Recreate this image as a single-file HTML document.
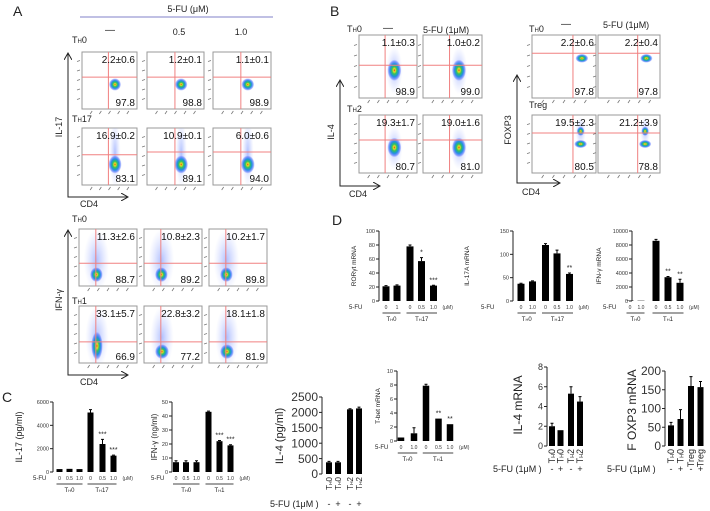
<!DOCTYPE html>
<html><head><meta charset="utf-8">
<style>
html,body{margin:0;padding:0;background:#fff;}
svg{display:block;font-family:"Liberation Sans",Arial,sans-serif;}
</style></head>
<body>
<svg id="fig" width="710" height="511" viewBox="0 0 710 511" xmlns="http://www.w3.org/2000/svg">
<defs>
<radialGradient id="hot" cx="50%" cy="50%" r="50%">
<stop offset="0%" stop-color="#e03020"/>
<stop offset="15%" stop-color="#e8e020"/>
<stop offset="35%" stop-color="#30c060"/>
<stop offset="60%" stop-color="#2090e0"/>
<stop offset="85%" stop-color="#4060ff" stop-opacity="0.5"/>
<stop offset="100%" stop-color="#6080ff" stop-opacity="0"/>
</radialGradient>
<radialGradient id="cloud" cx="50%" cy="50%" r="50%">
<stop offset="0%" stop-color="#6080ff" stop-opacity="0.5"/>
<stop offset="100%" stop-color="#a0b0ff" stop-opacity="0"/>
</radialGradient>
<marker id="arr" markerWidth="8" markerHeight="8" refX="7" refY="4" orient="auto-start-reverse"><path d="M0,0 L7,4 L0,8" fill="none" stroke="#222" stroke-width="1"/></marker>
</defs>
<g id="static" font-size="10" fill="#222">
<text x="13" y="16" font-size="14">A</text>
<text x="330" y="16" font-size="14">B</text>
<text x="2" y="402" font-size="14">C</text>
<text x="332" y="225" font-size="14">D</text>
<text x="188" y="12" text-anchor="middle" font-size="9">5-FU  (μM)</text>
<line x1="80" y1="17" x2="273" y2="17" stroke="#8080c8" stroke-width="1"/>
<text x="110" y="33" text-anchor="middle">—</text>
<text x="179" y="35" text-anchor="middle" font-size="9">0.5</text>
<text x="241" y="35" text-anchor="middle" font-size="9">1.0</text>
<text x="72" y="43" font-size="9">T<tspan font-size="6">H</tspan>0</text>
<text x="72" y="122" font-size="9">T<tspan font-size="6">H</tspan>17</text>
<text x="72" y="222" font-size="9">T<tspan font-size="6">H</tspan>0</text>
<text x="72" y="304" font-size="9">T<tspan font-size="6">H</tspan>1</text>
<polyline points="68,53 68,197 128,197" fill="none" stroke="#222" marker-start="url(#arr)" marker-end="url(#arr)"/>
<text x="62" y="127" transform="rotate(-90 62 127)" text-anchor="middle" font-size="9">IL-17</text>
<text x="80" y="207" font-size="9">CD4</text>
<polyline points="68,230 68,375 128,375" fill="none" stroke="#222" marker-start="url(#arr)" marker-end="url(#arr)"/>
<text x="62" y="300" transform="rotate(-90 62 300)" text-anchor="middle" font-size="9">IFN-γ</text>
<text x="80" y="385" font-size="9">CD4</text>
<text x="347" y="32" font-size="9">T<tspan font-size="6">H</tspan>0</text>
<text x="388" y="31" text-anchor="middle">—</text>
<text x="423" y="33" font-size="9">5-FU (1μM)</text>
<text x="347" y="112" font-size="9">T<tspan font-size="6">H</tspan>2</text>
<polyline points="340,80 340,186 380,186" fill="none" stroke="#222" marker-start="url(#arr)" marker-end="url(#arr)"/>
<text x="334" y="132" transform="rotate(-90 334 132)" text-anchor="middle" font-size="9">IL-4</text>
<text x="349" y="197" font-size="9">CD4</text>
<text x="529" y="32" font-size="9">T<tspan font-size="6">H</tspan>0</text>
<text x="566" y="27" text-anchor="middle">—</text>
<text x="603" y="28" font-size="9">5-FU (1μM)</text>
<text x="529" y="108" font-size="9">Treg</text>
<polyline points="517,75 517,183 560,183" fill="none" stroke="#222" marker-start="url(#arr)" marker-end="url(#arr)"/>
<text x="511" y="130" transform="rotate(-90 511 130)" text-anchor="middle" font-size="9">FOXP3</text>
<text x="522" y="195" font-size="9">CD4</text>
</g>
<g id="flow"></g>
<g id="bars"></g>
</svg>
<script>
// ---- Bar chart data ----
const rorgtVals = [21, 22, 78, 57, 22];
const rorgtErr = [1, 1, 2, 5, 0.5];
const rorgtSig = ['', '', '', '*', '***'];
const rorgtTicks = [0, 20, 40, 60, 80, 100];
const rorgtDoses = ['0', '1', '0', '0.5', '1.0'];

const il17aVals = [37, 42, 120, 102, 58];
const il17aErr = [1, 1, 3, 7, 2];
const il17aSig = ['', '', '', '', '**'];
const il17aTicks = [0, 50, 100, 150];
const il17aDoses = ['0', '1.0', '0', '0.5', '1.0'];

const ifngmVals = [60, 40, 8600, 3400, 2600];
const ifngmErr = [0, 0, 200, 100, 500];
const ifngmSig = ['', '', '', '**', '**'];
const ifngmTicks = [0, 2000, 4000, 6000, 8000, 10000];
const ifngmDoses = ['0', '1.0', '0', '0.5', '1.0'];

const tbetVals = [0.5, 1.1, 7.9, 3.2, 2.4];
const tbetErr = [0, 0.8, 0.2, 0, 0];
const tbetSig = ['', '', '', '**', '**'];
const tbetTicks = [0, 2, 4, 6, 8, 10];
const tbetDoses = ['0', '1.0', '0', '0.5', '1.0'];

const il17pVals = [250, 270, 250, 5100, 2400, 1400];
const il17pErr = [0, 0, 0, 250, 400, 50];
const il17pSig = ['', '', '', '', '***', '***'];
const il17pTicks = [0, 2000, 4000, 6000];
const il17pDoses = ['0', '0.5', '1.0', '0', '0.5', '1.0'];

const ifngpVals = [7, 7, 7, 43, 22, 19];
const ifngpErr = [1, 1, 1, 0.5, 0.5, 0.5];
const ifngpSig = ['', '', '', '', '***', '***'];
const ifngpTicks = [0, 10, 20, 30, 40, 50];
const ifngpDoses = ['0', '0.5', '1.0', '0', '0.5', '1.0'];

const il4pVals = [380, 380, 2100, 2130];
const il4pErr = [30, 30, 20, 40];
const il4pTicks = [0, 500, 1000, 1500, 2000, 2500];
const il4pCats = ['TH0', 'TH0', 'TH2', 'TH2'];

const il4mVals = [2.0, 1.6, 5.3, 4.5];
const il4mErr = [0.3, 0, 0.7, 0.5];
const il4mTicks = [0, 2, 4, 6, 8];
const il4mCats = ['TH0', 'TH0', 'TH2', 'TH2'];

const foxp3Vals = [55, 72, 160, 157];
const foxp3Err = [8, 25, 25, 15];
const foxp3Ticks = [0, 50, 100, 150, 200];
const foxp3Cats = ['TH0', 'TH0', 'Treg', 'Treg'];

const plusMinus = ['-', '+', '-', '+'];

const NS = 'http://www.w3.org/2000/svg';
function mk(tag, attrs, parent) {
  const e = document.createElementNS(NS, tag);
  for (const k in attrs) e.setAttribute(k, attrs[k]);
  parent.appendChild(e);
  return e;
}

// ---- Flow cytometry plots ----
const flowG = document.getElementById('flow');
function flowPlot(id, x, y, w, h, gx, gy, top, bot, blobs) {
  const g = mk('g', {}, flowG);
  
  
  const r = mk('rect', {x: x, y: y, width: w, height: h, fill: '#fff', stroke: '#999', 'stroke-width': 1}, g);
  
  
  for (let i = 1; i <= 5; i++) {
    const ty = y + h * i / 6;
    const t = mk('line', {x1: x - 5, y1: ty, x2: x - 2, y2: ty - 1, stroke: '#777', 'stroke-width': 0.8}, g);
    
    
    const tx = x + w * i / 6;
    const t2 = mk('line', {x1: tx - 1, y1: y + h + 5, x2: tx + 1, y2: y + h + 2, stroke: '#777', 'stroke-width': 0.8}, g);
    
    
  }
  const clip = 'clip-' + id;
  const cp = mk('clipPath', {id: clip}, g);
  mk('rect', {x: x, y: y, width: w, height: h}, cp);
  const bg = mk('g', {'clip-path': 'url(#' + clip + ')'}, g);
  blobs.forEach(b => {
    if (b.c) {
      const c = mk('ellipse', {cx: x + b.x * w, cy: y + (b.cy || b.y) * h, rx: b.c[0] * w, ry: b.c[1] * h, fill: 'url(#cloud)'}, bg);
      
      
    }
    const e = mk('ellipse', {cx: x + b.x * w, cy: y + b.y * h, rx: b.rx * w, ry: b.ry * h, fill: 'url(#hot)'}, bg);
    
    
  });
  const v = mk('line', {x1: x + gx * w, y1: y, x2: x + gx * w, y2: y + h, stroke: '#f08080', 'stroke-width': 1}, g);
  
  
  const hz = mk('line', {x1: x, y1: y + gy * h, x2: x + w, y2: y + gy * h, stroke: '#f08080', 'stroke-width': 1}, g);
  
  
  const tt = mk('text', {x: x + w - 2, y: y + 11, 'text-anchor': 'end', 'font-size': 10, fill: '#111'}, g);
  tt.textContent = top;
  
  
  const bt = mk('text', {x: x + w - 2, y: y + h - 3, 'text-anchor': 'end', 'font-size': 10, fill: '#111'}, g);
  bt.textContent = bot;
  
  
}
const compact = [{x: 0.6, y: 0.57, rx: 0.11, ry: 0.11}];
const th17 = [{x: 0.6, y: 0.64, rx: 0.12, ry: 0.16, c: [0.1, 0.6], cy: 0.45}];
const th0i = [{x: 0.3, y: 0.8, rx: 0.11, ry: 0.13, c: [0.22, 0.55], cy: 0.55}];
const th1a = [{x: 0.31, y: 0.7, rx: 0.1, ry: 0.25, c: [0.2, 0.55], cy: 0.55}];
const th1b = [{x: 0.31, y: 0.8, rx: 0.12, ry: 0.13, c: [0.2, 0.55], cy: 0.55}];
const il4b = [{x: 0.61, y: 0.56, rx: 0.12, ry: 0.17, c: [0.14, 0.38]}];
const treg1 = [{x: 0.78, y: 0.37, rx: 0.1, ry: 0.07}];
const treg2 = [{x: 0.76, y: 0.28, rx: 0.06, ry: 0.08, c: [0.08, 0.25]}, {x: 0.76, y: 0.5, rx: 0.1, ry: 0.07}];

flowPlot('flow-a-th0-ctrl', 82, 52, 55, 57, 0.48, 0.44, '2.2±0.6', '97.8', compact);
flowPlot('flow-a-th0-05', 147, 52, 57, 57, 0.49, 0.44, '1.2±0.1', '98.8', compact);
flowPlot('flow-a-th0-10', 213, 52, 58, 57, 0.48, 0.44, '1.1±0.1', '98.9', compact);
flowPlot('flow-a-th17-ctrl', 82, 128, 55, 57, 0.48, 0.47, '16.9±0.2', '83.1', th17);
flowPlot('flow-a-th17-05', 147, 128, 57, 57, 0.49, 0.42, '10.9±0.1', '89.1', th17);
flowPlot('flow-a-th17-10', 213, 128, 58, 57, 0.48, 0.42, '6.0±0.6', '94.0', th17);
flowPlot('flow-a-th0-ifng-ctrl', 79, 229, 58, 57, 0.29, 0.6, '11.3±2.6', '88.7', th0i);
flowPlot('flow-a-th0-ifng-05', 144, 229, 58, 57, 0.29, 0.6, '10.8±2.3', '89.2', th0i);
flowPlot('flow-a-th0-ifng-10', 209, 229, 58, 57, 0.29, 0.6, '10.2±1.7', '89.8', th0i);
flowPlot('flow-a-th1-ctrl', 79, 306, 58, 57, 0.29, 0.63, '33.1±5.7', '66.9', th1a);
flowPlot('flow-a-th1-05', 144, 306, 58, 57, 0.29, 0.63, '22.8±3.2', '77.2', th1b);
flowPlot('flow-a-th1-10', 209, 306, 58, 57, 0.29, 0.63, '18.1±1.8', '81.9', th1b);
flowPlot('flow-b-th0-ctrl', 359, 35, 58, 63, 0.45, 0.48, '1.1±0.3', '98.9', il4b);
flowPlot('flow-b-th0-5fu', 423, 35, 59, 63, 0.45, 0.48, '1.0±0.2', '99.0', il4b);
flowPlot('flow-b-th2-ctrl', 359, 115, 58, 58, 0.45, 0.43, '19.3±1.7', '80.7', il4b);
flowPlot('flow-b-th2-5fu', 423, 115, 59, 58, 0.45, 0.43, '19.0±1.6', '81.0', il4b);
flowPlot('flow-b-treg-th0-ctrl', 532, 35, 64, 63, 0.64, 0.29, '2.2±0.6', '97.8', treg1);
flowPlot('flow-b-treg-th0-5fu', 598, 35, 62, 63, 0.64, 0.29, '2.2±0.4', '97.8', treg1);
flowPlot('flow-b-treg-ctrl', 532, 115, 64, 58, 0.64, 0.31, '19.5±2.3', '80.5', treg2);
flowPlot('flow-b-treg-5fu', 598, 115, 62, 58, 0.64, 0.31, '21.2±3.9', '78.8', treg2);

// ---- Bar charts ----
const barsG = document.getElementById('bars');
function barChart(o) {
  const g = mk('g', {}, barsG);
  
  
  const vmax = o.ticks[o.ticks.length - 1];
  const sy = v => o.y0 - v / vmax * (o.y0 - o.ytop);
  const ax = mk('line', {x1: o.ax, y1: o.ytop, x2: o.ax, y2: o.y0, stroke: '#222', 'stroke-width': 1}, g);
  
  
  const fs = o.fs || 5.5;
  o.ticks.forEach(t => {
    const tl = mk('line', {x1: o.ax - 3, y1: sy(t), x2: o.ax, y2: sy(t), stroke: '#222', 'stroke-width': 1}, g);
    
    
    const tx = mk('text', {x: o.ax - 4, y: sy(t) + fs * 0.35, 'text-anchor': 'end', 'font-size': fs, fill: '#333'}, g);
    tx.textContent = t;
    
    
  });
  const lab = mk('text', {x: o.lx, y: o.ly, transform: 'rotate(-90 ' + o.lx + ' ' + o.ly + ')', 'text-anchor': 'middle', 'font-size': o.lfs || 6.5, fill: '#222'}, g);
  lab.textContent = o.label;
  
  
  o.vals.forEach((v, i) => {
    const cx = o.cx[i];
    const b = mk('rect', {x: cx - o.bw / 2, y: sy(v), width: o.bw, height: o.y0 - sy(v), fill: '#000'}, g);
    
    
    const e = o.err[i];
    if (e > 0) {
      const el = mk('path', {d: 'M' + cx + ',' + sy(v) + 'V' + sy(v + e) + 'M' + (cx - 1.5) + ',' + sy(v + e) + 'H' + (cx + 1.5), stroke: '#000', 'stroke-width': 1, fill: 'none'}, g);
      
      
    }
    if (o.sig && o.sig[i]) {
      const s = mk('text', {x: cx, y: sy(v + e) - 3, 'text-anchor': 'middle', 'font-size': 7, fill: '#222'}, g);
      s.textContent = o.sig[i];
      
      
    }
    if (o.doses) {
      const d = mk('text', {x: cx, y: o.y0 + 8, 'text-anchor': 'middle', 'font-size': 5, fill: '#333'}, g);
      d.textContent = o.doses[i];
      
      
    }
    if (o.cats) {
      const cy = o.y0 + 3;
      const c = mk('text', {x: cx + 3, y: cy, transform: 'rotate(-90 ' + (cx + 3) + ' ' + cy + ')', 'text-anchor': 'end', 'font-size': o.cfs || 9, fill: '#222'}, g);
      const cat = o.cats[i];
      if (cat.startsWith('TH')) {
        c.textContent = 'T';
        const ts = mk('tspan', {'font-size': (o.cfs || 9) * 0.6}, c);
        ts.textContent = 'H';
        const ts2 = mk('tspan', {}, c);
        ts2.textContent = cat.slice(2);
      } else c.textContent = cat;
      
      
    }
  });
  if (o.doses) {
    const f = mk('text', {x: o.fx, y: o.y0 + 8, 'font-size': 6, fill: '#222'}, g);
    f.textContent = '5-FU';
    
    
    const u = mk('text', {x: o.cx[o.cx.length - 1] + 9, y: o.y0 + 8, 'font-size': 5, fill: '#333'}, g);
    u.textContent = '(μM)';
    
    
    o.groups.forEach(gr => {
      const x1 = o.cx[gr[0]] - o.bw / 2, x2 = o.cx[gr[1]] + o.bw / 2;
      const ln = mk('line', {x1: x1, y1: o.y0 + 12, x2: x2, y2: o.y0 + 12, stroke: '#444', 'stroke-width': 1}, g);
      
      
      const gt = mk('text', {x: (x1 + x2) / 2, y: o.y0 + 20, 'text-anchor': 'middle', 'font-size': 6, fill: '#222'}, g);
      gt.textContent = 'T';
      const sb = mk('tspan', {'font-size': 4}, gt);
      sb.textContent = 'H';
      const rest = mk('tspan', {}, gt);
      rest.textContent = gr[2];
      
      
    });
  }
  if (o.pm) {
    const p = mk('text', {x: o.pmx, y: o.pmy, 'font-size': o.pmfs || 9, fill: '#222'}, g);
    p.textContent = '5-FU (1μM ) ';
    
    
    o.pm.forEach((s, i) => {
      const t = mk('text', {x: o.cx[i], y: o.pmy, 'text-anchor': 'middle', 'font-size': o.pmfs || 9, fill: '#222'}, g);
      t.textContent = s;
      
      
    });
  }
}

barChart({name: 'chart-rorgt-mrna', ax: 379, y0: 301, ytop: 231, ticks: rorgtTicks, vals: rorgtVals, err: rorgtErr, sig: rorgtSig, doses: rorgtDoses,
  cx: [386, 397, 410, 421.5, 433.5], bw: 7, label: 'RORγt mRNA', lx: 356, ly: 266, fx: 349, groups: [[0, 1, '0'], [2, 4, '17']]});
barChart({name: 'chart-il17a-mrna', ax: 513, y0: 301, ytop: 231, ticks: il17aTicks, vals: il17aVals, err: il17aErr, sig: il17aSig, doses: il17aDoses,
  cx: [521, 532.5, 545.5, 557, 569.5], bw: 7, label: 'IL-17A mRNA', lx: 469, ly: 266, fx: 481, groups: [[0, 1, '0'], [2, 4, '17']]});
barChart({name: 'chart-ifng-mrna', ax: 632, y0: 301, ytop: 231, ticks: ifngmTicks, vals: ifngmVals, err: ifngmErr, sig: ifngmSig, doses: ifngmDoses,
  cx: [630, 641, 656, 668, 680], bw: 7, label: 'IFN-γ mRNA', lx: 601, ly: 266, fx: 603, groups: [[0, 1, '0'], [2, 4, '1']]});
barChart({name: 'chart-tbet-mrna', ax: 397, y0: 441, ytop: 371, ticks: tbetTicks, vals: tbetVals, err: tbetErr, sig: tbetSig, doses: tbetDoses,
  cx: [401, 414, 426, 438.5, 450], bw: 6.5, label: 'T-bet mRNA', lx: 380, ly: 406, fx: 375, groups: [[0, 1, '0'], [2, 4, '1']]});
barChart({name: 'chart-il17-protein', ax: 53, y0: 472, ytop: 402, ticks: il17pTicks, vals: il17pVals, err: il17pErr, sig: il17pSig, doses: il17pDoses,
  cx: [59.5, 69.5, 79.5, 90.5, 102.5, 113.5], bw: 6, label: 'IL-17 (pg/ml)', lx: 22, ly: 437, lfs: 9, fx: 33, groups: [[0, 2, '0'], [3, 5, '17']]});
barChart({name: 'chart-ifng-protein', ax: 172, y0: 472, ytop: 402, ticks: ifngpTicks, vals: ifngpVals, err: ifngpErr, sig: ifngpSig, doses: ifngpDoses,
  cx: [176, 186, 196.5, 208.5, 219.5, 230.5], bw: 6, label: 'IFN-γ (ng/ml)', lx: 157, ly: 437, lfs: 8, fx: 151, groups: [[0, 2, '0'], [3, 5, '1']]});
barChart({name: 'chart-il4-protein', ax: 322, y0: 474, ytop: 397, ticks: il4pTicks, vals: il4pVals, err: il4pErr, fs: 12,
  cx: [329, 338, 350, 359], bw: 6, label: 'IL-4  (pg/ml)', lx: 283, ly: 436, lfs: 11, cats: il4pCats, cfs: 8, pm: plusMinus, pmx: 270, pmy: 507, pmfs: 9});
barChart({name: 'chart-il4-mrna', ax: 547, y0: 446, ytop: 367, ticks: il4mTicks, vals: il4mVals, err: il4mErr, fs: 9,
  cx: [552, 560.5, 571, 580], bw: 6, label: 'IL-4 mRNA', lx: 522, ly: 405, lfs: 12, cats: il4mCats, cfs: 9, pm: plusMinus, pmx: 493, pmy: 472, pmfs: 9});
barChart({name: 'chart-foxp3-mrna', ax: 665, y0: 446, ytop: 371, ticks: foxp3Ticks, vals: foxp3Vals, err: foxp3Err, fs: 12,
  cx: [671, 680.5, 691, 700.5], bw: 6, label: 'F OXP3 mRNA', lx: 636, ly: 410, lfs: 12, cats: foxp3Cats, cfs: 9, pm: plusMinus, pmx: 607, pmy: 472, pmfs: 9});
</script>
</body></html>
